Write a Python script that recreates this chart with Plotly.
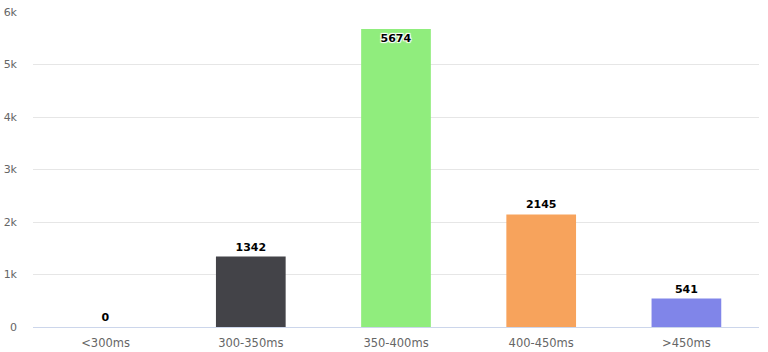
import plotly.graph_objects as go

categories = ["<300ms", "300-350ms", "350-400ms", "400-450ms", ">450ms"]
values = [0, 1342, 5674, 2145, 541]
colors = ["#7cb5ec", "#434348", "#90ed7d", "#f7a35c", "#8085e9"]
text_pos = ["outside", "outside", "inside", "outside", "outside"]
y_ticks = [0, 1000, 2000, 3000, 4000, 5000, 6000]
y_tick_labels = ["0", "1k", "2k", "3k", "4k", "5k", "6k"]

fig = go.Figure(
    go.Bar(
        x=categories,
        y=values,
        marker=dict(color=colors, line=dict(width=0)),
        width=0.48,
        text=[str(v) for v in values],
        textposition=text_pos,
        insidetextanchor="end",
        textangle=0,
        textfont=dict(family="DejaVu Sans", size=11, color="#000000", weight="bold",
                      shadow="1px 1px 1px #fff, -1px -1px 1px #fff, 1px -1px 1px #fff, -1px 1px 1px #fff"),
        cliponaxis=False,
        hoverinfo="skip",
    )
)

fig.update_layout(
    width=768,
    height=352,
    margin=dict(l=33, r=9, t=12, b=25, autoexpand=False),
    paper_bgcolor="#ffffff",
    plot_bgcolor="#ffffff",
    showlegend=False,
    font=dict(family="DejaVu Sans", size=11, color="#666666"),
)
fig.update_xaxes(
    showgrid=False,
    showline=True,
    linecolor="#ccd6eb",
    linewidth=1,
    ticks="",
    automargin=False,
    ticklabelstandoff=5,
    tickfont=dict(size=11.5, color="#666666"),
    fixedrange=True,
)
fig.update_yaxes(
    range=[0, 6000],
    tickvals=y_ticks,
    ticktext=y_tick_labels,
    showgrid=True,
    gridcolor="#e6e6e6",
    gridwidth=1,
    zeroline=False,
    showline=False,
    ticks="",
    automargin=False,
    ticklabelstandoff=15,
    tickfont=dict(size=11, color="#666666"),
    fixedrange=True,
)

fig.write_html("out.html")
